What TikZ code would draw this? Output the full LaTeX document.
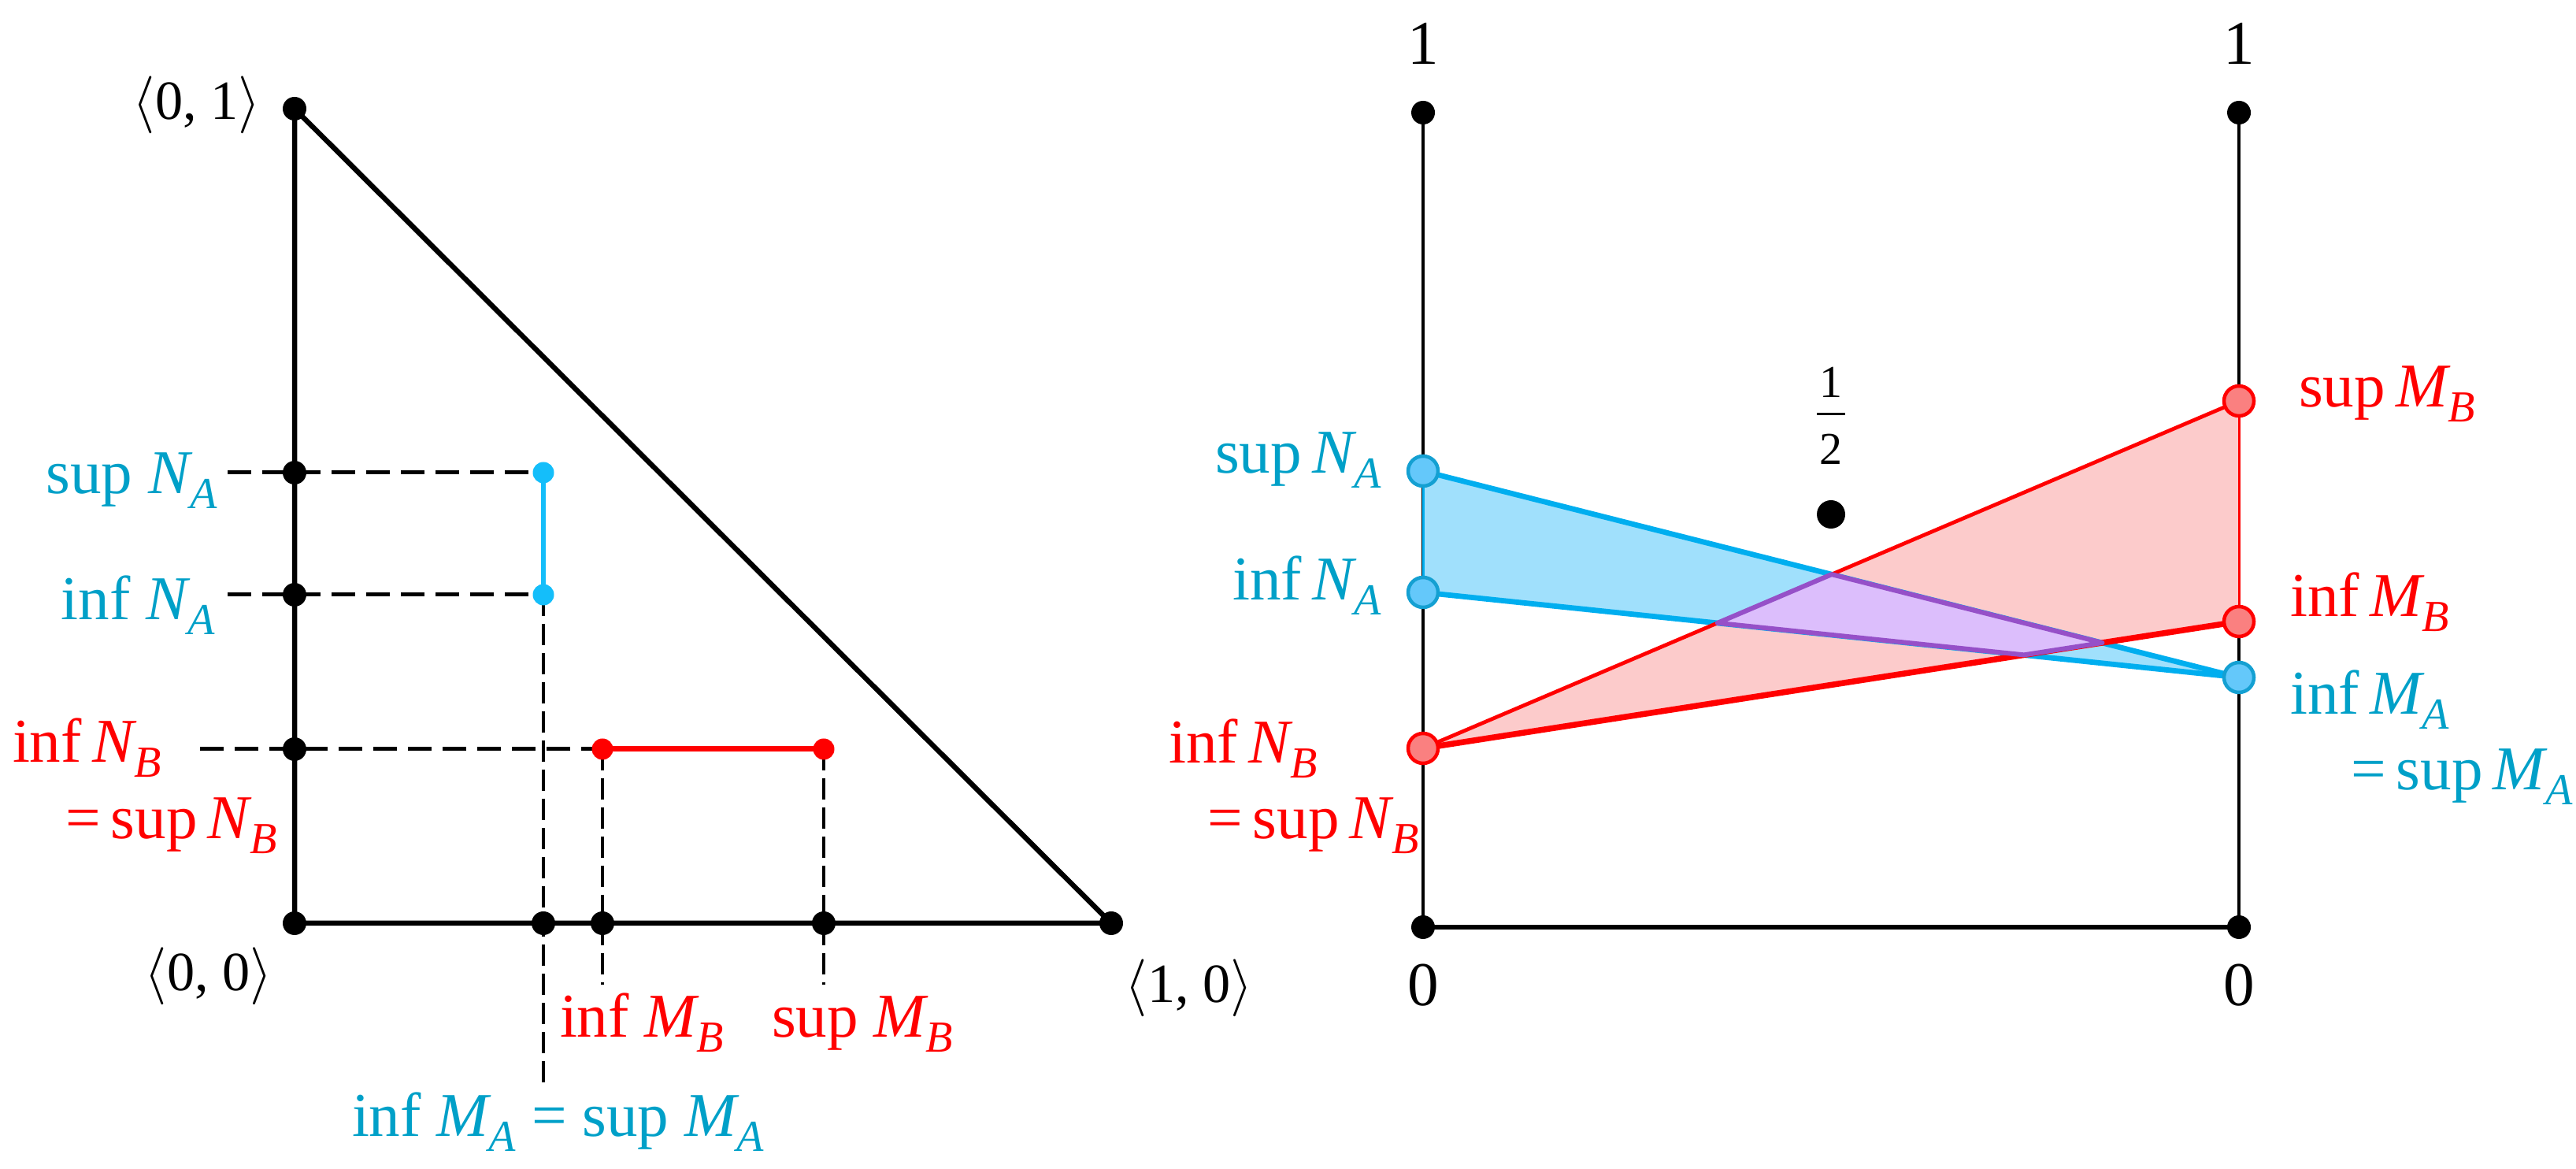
\documentclass[tikz,border=0pt]{standalone}
\usepackage{amsmath}
\usepackage{fontspec}
\setmainfont{Liberation Serif}
\usetikzlibrary{calc}
\definecolor{cyanline}{RGB}{0,174,239}
\definecolor{cyanleft}{RGB}{20,190,250}
\definecolor{cyantext}{RGB}{0,160,200}
\definecolor{bluefill}{RGB}{160,224,252}
\definecolor{bluecircfill}{RGB}{100,200,250}
\definecolor{bluecircdraw}{RGB}{20,160,210}
\definecolor{redfill}{RGB}{252,203,203}
\definecolor{redcircfill}{RGB}{250,128,128}
\definecolor{purplefill}{RGB}{220,190,252}
\definecolor{purpleline}{RGB}{150,80,200}
\definecolor{pured}{RGB}{255,0,0}
\newcommand{\ssub}[2]{\textit{#1}\kern-0.04em\raisebox{-0.24em}{\fontsize{16}{16}\selectfont\textit{#2}}}
\tikzset{
  lbl/.style={font=\fontsize{22.5}{27}\selectfont, inner sep=0pt, outer sep=0pt},
  brk/.style={font=\fontsize{20}{24}\selectfont, inner sep=0pt, outer sep=0pt},
  fracfont/.style={font=\fontsize{16.5}{18}\selectfont, inner sep=0pt, outer sep=0pt},
  bdot/.style={circle, fill=black, inner sep=0pt, minimum size=0.30cm},
  bigdot/.style={circle, fill=black, inner sep=0pt, minimum size=0.36cm},
  cdot/.style={circle, fill=cyanleft, inner sep=0pt, minimum size=0.27cm},
  rdot/.style={circle, fill=pured, inner sep=0pt, minimum size=0.27cm},
  bcirc/.style={circle, fill=bluecircfill, draw=bluecircdraw, line width=0.045cm, inner sep=0pt, minimum size=0.38cm},
  rcirc/.style={circle, fill=redcircfill, draw=pured, line width=0.045cm, inner sep=0pt, minimum size=0.38cm},
  axisL/.style={line width=0.065cm, line join=miter},
  axisR/.style={line width=0.045cm},
  hdash/.style={line width=0.05cm, dash pattern=on 0.30cm off 0.14cm},
  vdash/.style={line width=0.035cm, dash pattern=on 0.27cm off 0.10cm},
}
\begin{document}
\begin{tikzpicture}
\useasboundingbox (0,0) rectangle (32.71,14.84);
% ---------------- left panel ----------------
\coordinate (O) at (3.74,3.12);
\coordinate (T) at (3.74,13.46);
\coordinate (R) at (14.11,3.12);
\coordinate (ySA) at (3.74,8.84);
\coordinate (yIA) at (3.74,7.29);
\coordinate (yNB) at (3.74,5.33);
\coordinate (pSA) at (6.90,8.84);
\coordinate (pIA) at (6.90,7.29);
\coordinate (pIB) at (7.65,5.33);
\coordinate (pSB) at (10.46,5.33);
\coordinate (xA) at (6.90,3.12);
\coordinate (xIB) at (7.65,3.12);
\coordinate (xSB) at (10.46,3.12);
\coordinate (dSA) at (2.89,8.84);
\coordinate (dIA) at (2.89,7.29);
\coordinate (dNB) at (2.54,5.33);
\coordinate (eA) at (6.90,1.01);
\coordinate (eIB) at (7.65,2.34);
\coordinate (eSB) at (10.46,2.34);

\draw[axisL] (T) -- (O) -- (R) -- cycle;
\draw[hdash] (dSA) -- (pSA);
\draw[hdash] (dIA) -- (pIA);
\draw[hdash] (dNB) -- (pIB);
\draw[vdash] (pIA) -- (eA);
\draw[vdash] (pIB) -- (eIB);
\draw[vdash] (pSB) -- (eSB);
\draw[cyanleft, line width=0.065cm] (pSA) -- (pIA);
\draw[pured, line width=0.07cm] (pIB) -- (pSB);

\foreach \p in {O,T,R,ySA,yIA,yNB,xA,xIB,xSB} \node[bdot] (d\p) at (\p) {};
\node[cdot] (cSA) at (pSA) {};
\node[cdot] (cIA) at (pIA) {};
\node[rdot] (rIB) at (pIB) {};
\node[rdot] (rSB) at (pSB) {};

\node[brk, anchor=base] (l01) at (2.50,13.32) {$\langle$0, 1$\rangle$};
\node[brk, anchor=base] (l00) at (2.65,2.26) {$\langle$0, 0$\rangle$};
\node[brk, anchor=base] (l10) at (15.10,2.11) {$\langle$1, 0$\rangle$};

\node[lbl, text=cyantext, anchor=base east] (lSA) at (2.76,8.57) {sup\ \ssub{N}{A}};
\node[lbl, text=cyantext, anchor=base east] (lIA) at (2.73,6.97) {inf\ \ssub{N}{A}};
\node[lbl, text=pured, anchor=base west] (lNB1) at (0.16,5.16) {inf\,\ssub{N}{B}};
\node[lbl, text=pured, anchor=base west] (lNB2) at (0.83,4.19) {=\,sup\,\ssub{N}{B}};
\node[lbl, text=pured, anchor=base west] (lIMB) at (7.11,1.67) {inf\ \ssub{M}{B}};
\node[lbl, text=pured, anchor=base west] (lSMB) at (9.80,1.67) {sup\ \ssub{M}{B}};
\node[lbl, text=cyantext, anchor=base west] (lMA) at (4.47,0.41) {inf\ \ssub{M}{A} = sup\ \ssub{M}{A}};

% ---------------- right panel ----------------
\coordinate (LB) at (18.07,3.07);
\coordinate (LT) at (18.07,13.41);
\coordinate (RB) at (28.43,3.07);
\coordinate (RT) at (28.43,13.41);
\coordinate (nSA) at (18.07,8.86);
\coordinate (nIA) at (18.07,7.32);
\coordinate (nB) at (18.07,5.34);
\coordinate (mSB) at (28.43,9.75);
\coordinate (mIB) at (28.43,6.95);
\coordinate (mA) at (28.43,6.24);
\coordinate (H) at (23.25,8.31);
\coordinate (Q1) at (intersection of nSA--mA and nB--mSB);
\coordinate (Q2) at (intersection of nIA--mA and nB--mSB);
\coordinate (Q3) at (intersection of nIA--mA and nB--mIB);
\coordinate (Q4) at (intersection of nSA--mA and nB--mIB);

\draw[axisR] (LT) -- (LB);
\draw[axisR] (RT) -- (RB);
\draw[line width=0.06cm] (LB) -- (RB);

\fill[bluefill] (nSA) -- (mA) -- (nIA) -- cycle;
\fill[redfill] (nB) -- (mSB) -- (mIB) -- cycle;
\draw[cyanline, line width=0.03cm] (nSA) -- (nIA);
\draw[cyanline, line width=0.068cm] (nSA) -- (mA);
\draw[cyanline, line width=0.068cm] (nIA) -- (mA);
\draw[pured, line width=0.03cm] (mSB) -- (mIB);
\draw[pured, line width=0.075cm] (nB) -- (mIB);
\draw[pured, line width=0.048cm] (nB) -- (mSB);
\filldraw[fill=purplefill, draw=purpleline, line width=0.06cm, line join=round] (Q1) -- (Q2) -- (Q3) -- (Q4) -- cycle;

\foreach \p in {LB,LT,RB,RT} \node[bdot] (d\p) at (\p) {};
\node[bigdot] (dH) at (H) {};
\node[bcirc] (cnSA) at (nSA) {};
\node[bcirc] (cnIA) at (nIA) {};
\node[bcirc] (cmA) at (mA) {};
\node[rcirc] (cnB) at (nB) {};
\node[rcirc] (cmSB) at (mSB) {};
\node[rcirc] (cmIB) at (mIB) {};

\node[fracfont] (hnum) at (23.25,9.99) {1};
\coordinate (hbarL) at (23.07,9.58);
\coordinate (hbarR) at (23.43,9.58);
\draw[line width=0.03cm] (hbarL) -- (hbarR);
\node[fracfont] (hden) at (23.25,9.14) {2};

\node[lbl, anchor=base] (t1L) at (18.07,14.02) {1};
\node[lbl, anchor=base] (t1R) at (28.43,14.02) {1};
\node[lbl, anchor=base] (t0L) at (18.07,2.07) {0};
\node[lbl, anchor=base] (t0R) at (28.43,2.07) {0};

\node[lbl, text=cyantext, anchor=base east] (rSA) at (17.54,8.83) {sup\,\ssub{N}{A}};
\node[lbl, text=cyantext, anchor=base east] (rIA) at (17.54,7.22) {inf\,\ssub{N}{A}};
\node[lbl, text=pured, anchor=base west] (rNB1) at (14.84,5.15) {inf\,\ssub{N}{B}};
\node[lbl, text=pured, anchor=base west] (rNB2) at (15.33,4.19) {=\,sup\,\ssub{N}{B}};
\node[lbl, text=pured, anchor=base west] (rSMB) at (29.19,9.67) {sup\,\ssub{M}{B}};
\node[lbl, text=pured, anchor=base west] (rIMB) at (29.08,7.01) {inf\,\ssub{M}{B}};
\node[lbl, text=cyantext, anchor=base west] (rIMA) at (29.08,5.77) {inf\,\ssub{M}{A}};
\node[lbl, text=cyantext, anchor=base west] (rSMA) at (29.85,4.81) {=\,sup\,\ssub{M}{A}};
\end{tikzpicture}
\end{document}
